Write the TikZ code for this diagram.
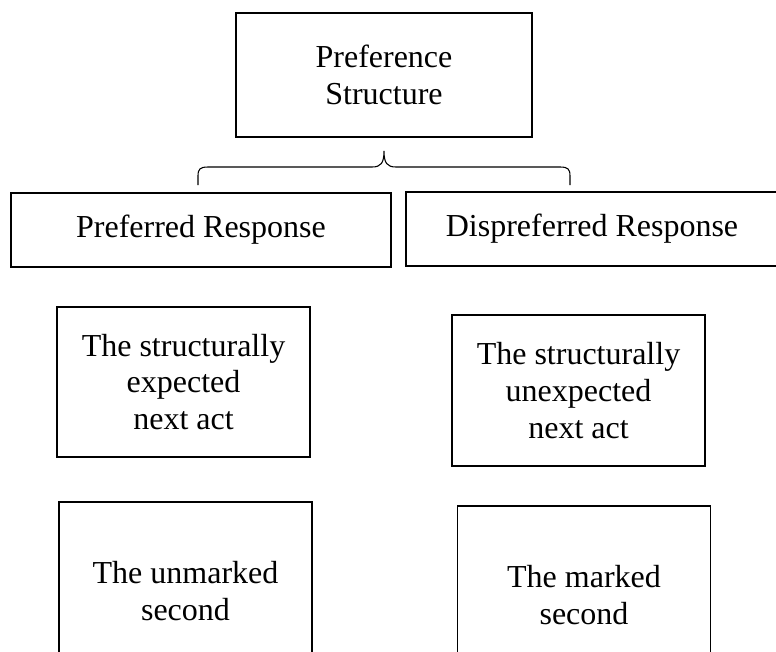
\documentclass[tikz,border=0pt]{standalone}
\usepackage{fontspec}
\setmainfont{Liberation Serif}
\begin{document}
\begin{tikzpicture}[x=0.75pt,y=-0.75pt,
  box/.style={draw, line width=1.2pt, align=center, inner sep=0pt,
    font=\fontsize{24}{27.6}\selectfont}]
\useasboundingbox (0,0) rectangle (776,651);
\clip (0,0) rectangle (776,651);
\node[box, minimum width=222pt, minimum height=93pt] (top) at (384,75) {Preference\\Structure};
\node[box, minimum width=285pt, minimum height=55.5pt] (pref) at (201,230) {Preferred Response};
\node[box, minimum width=279pt, minimum height=55.5pt] (dispref) at (592,229) {Dispreferred Response};
\node[box, minimum width=189.75pt, minimum height=112.5pt] (expl) at (183.5,382) {The structurally\\expected\\next act};
\node[box, minimum width=189.75pt, minimum height=113.25pt] (unexp) at (578.5,390.5) {The structurally\\unexpected\\next act};
\node[box, minimum width=189.75pt, minimum height=133.5pt] (unm) at (185.5,591) {The unmarked\\second};
\node[box, minimum width=189.75pt, minimum height=133.5pt] (mark) at (584,595) {The marked\\second};
\draw[line width=0.8pt] (198,185) -- (198,176) .. controls (198,169) and (200,167) .. (208,167)
  -- (372,167) .. controls (381,167) and (384,163) .. (384,151)
  .. controls (384,163) and (387,167) .. (396,167)
  -- (560,167) .. controls (568,167) and (570,169) .. (570,176) -- (570,185);
\end{tikzpicture}
\end{document}
